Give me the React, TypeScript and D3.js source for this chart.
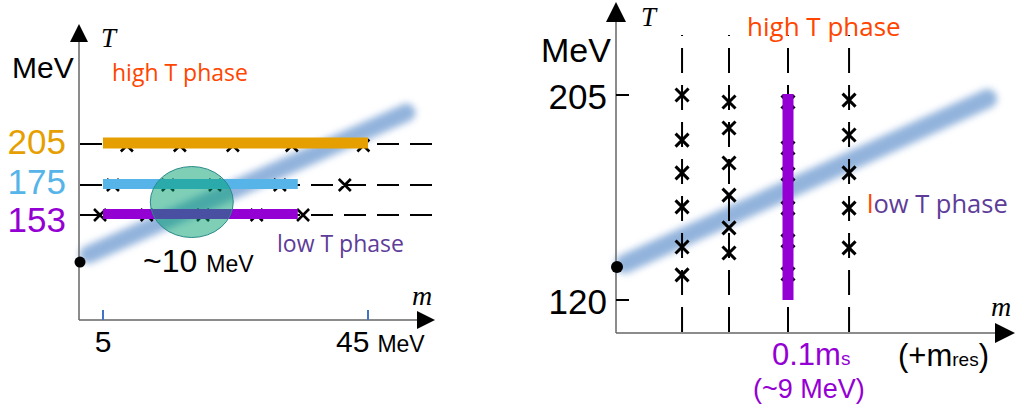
import * as d3 from "d3";

// left panel: three temperatures, m scanned from 5 to 45 MeV
const leftTemps = [205, 175, 153];
const leftColors = ["#E69F00", "#56B4E9", "#9400D3"];
const leftLabelDy = [10, 9, 17];
const leftBarStart = [5, 5, 5];
const leftBarEnd = [45, 34.4, 34.4];
const leftCrosses = [
  [8.6, 16.6, 24.6, 33.5, 44.3],
  [6.5, 14.8, 21.9, 31.7, 41.5],
  [4.55, 11.6, 20.1, 28.2, 35.2],
];
const leftMTicks = [5, 45];
const leftBand = [[2.8, 124], [50.8, 228]];
const leftDotT = 118.5;
const blobCenter = [18.4, 162.5];
const blobRadius = [6.26, 26];

// right panel: four masses (units of m_s), T scanned
const rightMasses = [0.0384, 0.0657, 0.1, 0.1355];
const rightCrosses = [
  [205, 186.3, 172.7, 158.6, 142, 130.4],
  [202.1, 191.3, 176.8, 163.5, 149.9, 139.5],
  [202.1, 183, 172.2, 158.1, 144.5, 130.8],
  [202.9, 188.4, 172.7, 158.1, 141.6],
];
const rightTTicks = [205, 120];
const rightBar = [120, 205];
const rightBarMass = 0.1;
const rightBand = [[0.005, 135], [0.216, 203.5]];
const rightDotT = 133.7;

const sans = "'Liberation Sans', Arial, sans-serif";
const open = "'Open Sans', sans-serif";
const serif = "'Liberation Serif', serif";

const cross = (x: number, y: number, s: number) =>
  `M${x - s},${y - s}L${x + s},${y + s}M${x - s},${y + s}L${x + s},${y - s}`;

export default function App() {
  const xL = d3.scaleLinear().domain([5, 45]).range([103, 368]);
  const yL = d3.scaleLinear().domain([153, 205]).range([215, 144]);
  const xR = d3.scaleLinear().domain([0, 0.1]).range([616, 788]);
  const yR = d3.scaleLinear().domain([120, 205]).range([300, 95]);

  const axL = { x0: 79, y0: 320, top: 24, right: 435 };
  const axR = { x0: 616, y0: 333, top: 2, right: 1015 };

  const line = d3.line<number[]>();

  return (
    <svg width={1018} height={414} style={{ position: "absolute", left: 0, top: 0, background: "#fff" }}>
      <defs>
        <filter id="blur" x="-20%" y="-50%" width="140%" height="200%">
          <feGaussianBlur stdDeviation="3.5" />
        </filter>
      </defs>

      {/* ---------- left panel ---------- */}
      <path
        d={line(leftBand.map(([m, t]) => [xL(m), yL(t)]))!}
        stroke="#7fa6d6" strokeWidth={18} strokeLinecap="round" opacity={0.85} filter="url(#blur)" fill="none"
      />
      {leftTemps.map((t, i) => (
        <g key={t}>
          <line x1={axL.x0 + 1} x2={433} y1={yL(t)} y2={yL(t)} stroke="#000" strokeWidth={2} strokeDasharray="22 11" />
          <path d={leftCrosses[i].map(m => cross(xL(m), yL(t) + (i === 0 ? 1.5 : 0), 6)).join("")}
            stroke="#000" strokeWidth={2.6} fill="none" />
          <line x1={xL(leftBarStart[i])} x2={xL(leftBarEnd[i])} y1={yL(t) - 1} y2={yL(t) - 1}
            stroke={leftColors[i]} strokeWidth={i === 0 ? 11 : 10} />
          <text x={66} y={yL(t) + leftLabelDy[i]} textAnchor="end" fontFamily={sans} fontSize={35} fill={leftColors[i]}>{t}</text>
        </g>
      ))}
      <ellipse cx={xL(blobCenter[0])} cy={yL(blobCenter[1])}
        rx={xL(blobCenter[0] + blobRadius[0]) - xL(blobCenter[0])}
        ry={yL(blobCenter[1]) - yL(blobCenter[1] + blobRadius[1])}
        fill="#00a070" fillOpacity={0.5} stroke="#2a8a8a" strokeWidth={1} />

      <line x1={axL.x0} x2={axL.x0} y1={axL.y0} y2={axL.top + 10} stroke="#666" strokeWidth={1.5} />
      <line x1={axL.x0} x2={axL.right - 10} y1={axL.y0} y2={axL.y0} stroke="#666" strokeWidth={1.5} />
      <path d={`M${axL.x0},${axL.top}L${axL.x0 + 9},${axL.top + 18}L${axL.x0 - 9},${axL.top + 18}Z`} fill="#000" />
      <path d={`M${axL.right},${axL.y0}L${axL.right - 18},${axL.y0 - 9}L${axL.right - 18},${axL.y0 + 9}Z`} fill="#000" />
      {leftMTicks.map(m => (
        <line key={m} x1={xL(m)} x2={xL(m)} y1={axL.y0 - 10} y2={axL.y0} stroke="#4472C4" strokeWidth={2} />
      ))}
      <circle cx={axL.x0 + 1} cy={yL(leftDotT)} r={5.5} fill="#000" />

      <text x={101} y={47} fontFamily={serif} fontStyle="italic" fontSize={27}>T</text>
      <text x={12} y={78} fontFamily={sans} fontSize={30}>MeV</text>
      <text x={112} y={81} fontFamily={open} fontSize={23} fill="#FF4500">high T phase</text>
      <text x={277} y={252} fontFamily={open} fontSize={23} fill="#5e3c99">low T phase</text>
      <text x={143} y={272} fontFamily={sans} fontSize={32}>~10<tspan dx={9} fontSize={23}>MeV</tspan></text>
      <text x={412} y={305} fontFamily={serif} fontStyle="italic" fontSize={28}>m</text>
      <text x={xL(leftMTicks[0])} y={352} textAnchor="middle" fontFamily={sans} fontSize={30}>{leftMTicks[0]}</text>
      <text x={336} y={352} fontFamily={sans} fontSize={30}>{leftMTicks[1]}<tspan dx={8} fontSize={23}>MeV</tspan></text>

      {/* ---------- right panel ---------- */}
      <path
        d={line(rightBand.map(([m, t]) => [xR(m), yR(t)]))!}
        stroke="#7fa6d6" strokeWidth={19} strokeLinecap="round" opacity={0.85} filter="url(#blur)" fill="none"
      />
      {rightMasses.map((m, i) => (
        <g key={m}>
          <line x1={xR(m)} x2={xR(m)} y1={35} y2={axR.y0} stroke="#000" strokeWidth={2}
            strokeDasharray="25 12" strokeDashoffset={24} />
          <path d={rightCrosses[i].map(t => cross(xR(m), yR(t), 6.5)).join("")}
            stroke="#000" strokeWidth={3} fill="none" />
        </g>
      ))}
      <line x1={xR(rightBarMass)} x2={xR(rightBarMass)} y1={yR(rightBar[0])} y2={yR(rightBar[1]) - 1}
        stroke="#9400D3" strokeWidth={11} />

      <line x1={axR.x0} x2={axR.x0} y1={axR.y0} y2={axR.top + 10} stroke="#666" strokeWidth={1.5} />
      <line x1={axR.x0} x2={axR.right - 10} y1={axR.y0} y2={axR.y0} stroke="#666" strokeWidth={1.5} />
      <path d={`M${axR.x0},${axR.top}L${axR.x0 + 10},${axR.top + 20}L${axR.x0 - 10},${axR.top + 20}Z`} fill="#000" />
      <path d={`M${axR.right},${axR.y0}L${axR.right - 20},${axR.y0 - 10}L${axR.right - 20},${axR.y0 + 10}Z`} fill="#000" />
      {rightTTicks.map(t => (
        <g key={t}>
          <line x1={axR.x0} x2={axR.x0 + 13} y1={yR(t)} y2={yR(t)} stroke="#000" strokeWidth={2} />
          <text x={607} y={yR(t) + 14} textAnchor="end" fontFamily={sans} fontSize={35}>{t}</text>
        </g>
      ))}
      <circle cx={axR.x0 + 1} cy={yR(rightDotT)} r={6} fill="#000" />

      <text x={641} y={26} fontFamily={serif} fontStyle="italic" fontSize={27}>T</text>
      <text x={541} y={62} fontFamily={sans} fontSize={34}>MeV</text>
      <text x={747} y={36} fontFamily={open} fontSize={26} fill="#FF4500">high T phase</text>
      <text x={867} y={213} fontFamily={open} fontSize={25.5} fill="#5e3c99">
        <tspan fill="#FF4500">l</tspan>ow T phase
      </text>
      <text x={991} y={316} fontFamily={serif} fontStyle="italic" fontSize={28}>m</text>
      <text x={772} y={365} fontFamily={sans} fontSize={31} fill="#9400D3">0.1m<tspan fontSize={19}>s</tspan></text>
      <text x={753} y={398} fontFamily={sans} fontSize={27} fill="#9400D3">(~9 MeV)</text>
      <text x={898} y={366} fontFamily={sans} fontSize={31}>(+m<tspan fontSize={19}>res</tspan>)</text>
    </svg>
  );
}
